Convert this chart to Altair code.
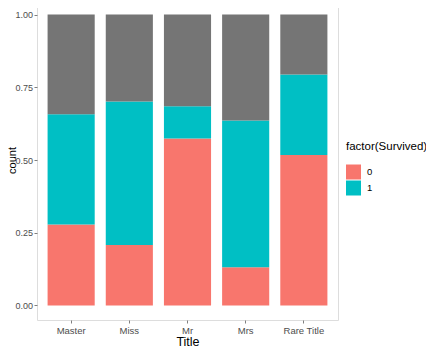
import altair as alt
import pandas as pd

titles = ["Master", "Miss", "Mr", "Mrs", "Rare Title"]
died = [0.278, 0.208, 0.574, 0.131, 0.517]
survived = [0.379, 0.493, 0.111, 0.505, 0.277]
unknown = [0.343, 0.299, 0.315, 0.364, 0.206]

rows = []
for t, d, s, u in zip(titles, died, survived, unknown):
    rows.append({"Title": t, "Survived": "0", "ord": 0, "frac": d})
    rows.append({"Title": t, "Survived": "1", "ord": 1, "frac": s})
    rows.append({"Title": t, "Survived": "NA", "ord": 2, "frac": u})
df = pd.DataFrame(rows)

FONT = "Liberation Sans"

chart = alt.Chart(df).mark_bar(width={"band": 0.9}).encode(
    x=alt.X("Title:N", sort=titles, title="Title",
            scale=alt.Scale(paddingInner=0.1, paddingOuter=0.137),
            axis=alt.Axis(labelAngle=0, domain=False, tickColor="#7F7F7F", tickSize=3,
                          labelColor="#4D4D4D", labelFontSize=9.5, labelPadding=2,
                          titleFontSize=12.5, titleFontWeight="normal", titleColor="#000000",
                          titlePadding=1, grid=False, labelFont=FONT, titleFont=FONT)),
    y=alt.Y("frac:Q", stack="normalize", title="count",
            scale=alt.Scale(domain=[-0.05, 1.05], nice=False, zero=False),
            axis=alt.Axis(values=[0, 0.25, 0.5, 0.75, 1],
                          labelExpr="format(datum.value, '.2f')", domain=False,
                          tickColor="#7F7F7F", tickSize=3, labelColor="#4D4D4D",
                          labelFontSize=9, labelPadding=1.5, titleFontSize=11,
                          titleFontWeight="normal", titleColor="#000000", grid=False,
                          labelFont=FONT, titleFont=FONT, titleX=-21.5, titleY=160,
                          titleAngle=270, titleBaseline="alphabetic", titleAlign="center")),
    color=alt.Color("Survived:N", title="factor(Survived)",
                    scale=alt.Scale(domain=["0", "1", "NA"],
                                    range=["#F8766D", "#00BFC4", "#757575"]),
                    legend=alt.Legend(values=["0", "1"], orient="none", legendX=309,
                                      legendY=141, symbolType="square", symbolSize=225,
                                      symbolStrokeWidth=0, rowPadding=1, titlePadding=12,
                                      titleFontSize=11.5, titleFontWeight="normal",
                                      titleColor="#000000", labelFontSize=9.5,
                                      labelColor="#000000", titleFont=FONT, labelFont=FONT,
                                      labelOffset=6)),
    order=alt.Order("ord:Q"),
).properties(
    width=301, height=320,
    autosize=alt.AutoSizeParams(type="none"),
    padding={"left": 29, "top": -8, "right": 88, "bottom": 29},
).configure_view(stroke="#BFBFBF", strokeWidth=1).configure(background="white")

chart.save("out.html", embed_options={"renderer": "svg", "actions": False})
